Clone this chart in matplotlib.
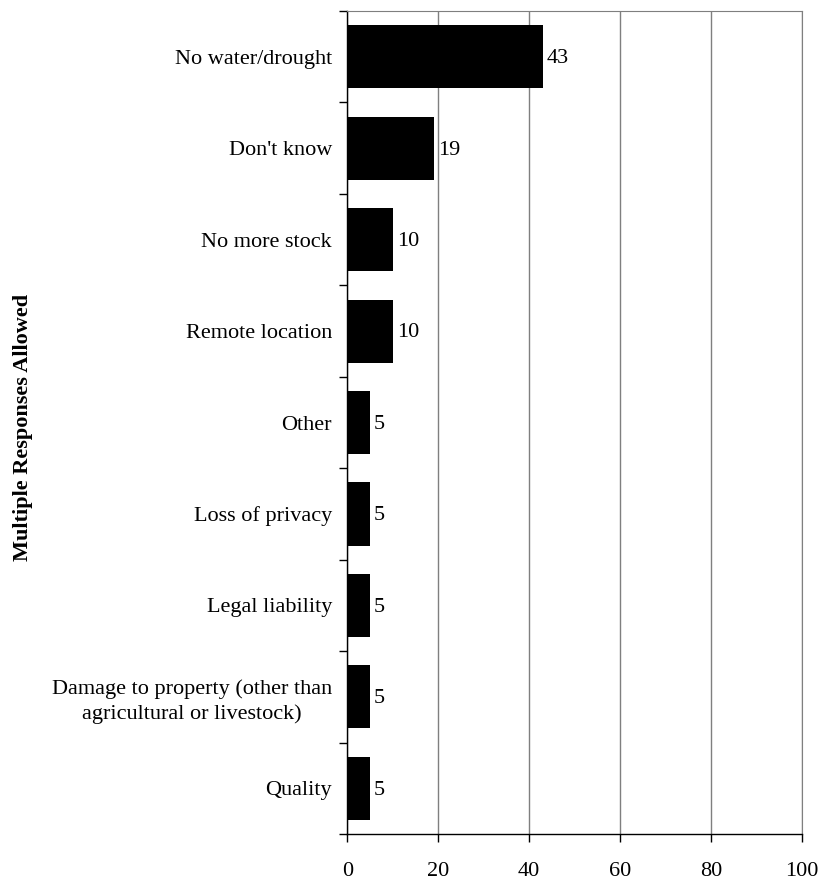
import numpy as np
import matplotlib
matplotlib.use("Agg")
import matplotlib.pyplot as plt

categories = ["No water/drought", "Don't know", "No more stock", "Remote location",
              "Other", "Loss of privacy", "Legal liability",
              "Damage to property (other than\nagricultural or livestock)", "Quality"]
values = [43, 19, 10, 10, 5, 5, 5, 5, 5]

plt.rcParams['font.family'] = ['Liberation Serif', 'DejaVu Serif']

fig = plt.figure(figsize=(8.21, 8.82), dpi=100)
ax = fig.add_axes([0.423, 0.0544, 0.5535, 0.9331])

n = len(categories)
y = np.arange(n)
ax.barh(y, values, height=0.69, color="black", zorder=3)
for yi, v in zip(y, values):
    ax.text(v + 0.9, yi + 0.02, str(v), va="center", ha="left", fontsize=16, zorder=4)

ax.set_ylim(n - 0.5, -0.5)
ax.set_xlim(0, 100)
ax.set_xticks(np.arange(0, 101, 20))
ax.set_yticks(y)
ax.set_yticklabels(categories, fontsize=16, ha="right", multialignment="center",
                   linespacing=1.3)
ax.tick_params(axis="y", which="major", length=0, pad=11)
ax.set_yticks(np.arange(-0.5, n, 1), minor=True)
ax.tick_params(axis="y", which="minor", length=6, direction="out", width=1)
ax.tick_params(axis="x", length=6, direction="out", width=1, labelsize=16, pad=14)

ax.xaxis.grid(True, color="#7f7f7f", linewidth=1, zorder=0)
for s in ["top", "right"]:
    ax.spines[s].set_color("#7f7f7f")
for s in ["left", "bottom"]:
    ax.spines[s].set_color("black")
    ax.spines[s].set_linewidth(1)

fig.text(0.028, 0.515, "Multiple Responses Allowed", rotation=90, va="center", ha="center",
         fontsize=16, fontweight="bold")

fig.savefig("out.png", dpi=100)
